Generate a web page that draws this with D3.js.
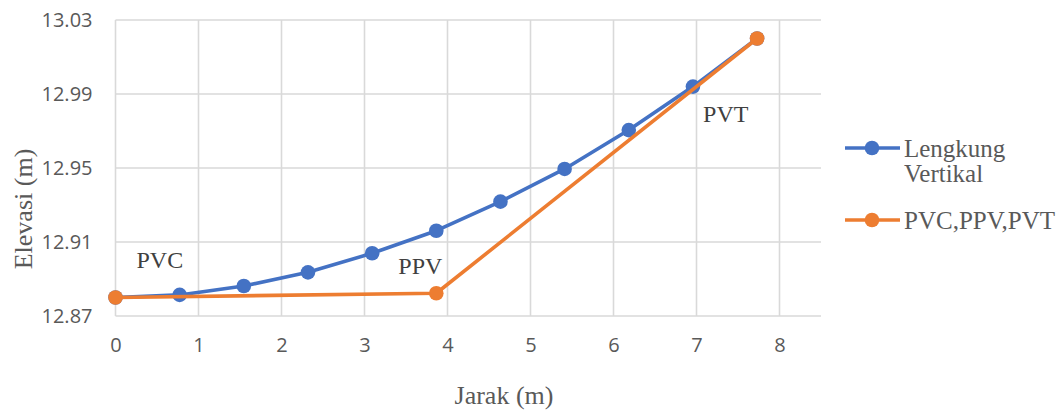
<!DOCTYPE html>
<html>
<head>
<meta charset="utf-8">
<script src="https://cdn.jsdelivr.net/npm/d3@7"></script>
<style>
  body { margin: 0; background: #fff; }
  svg { display: block; }
</style>
</head>
<body>
<div id="chart"></div>
<script>
// data
var jarak = [0, 0.773, 1.546, 2.319, 3.092, 3.865, 4.638, 5.411, 6.184, 6.957, 7.73];
var elevasiLengkung = [12.88, 12.8814, 12.8862, 12.8936, 12.9039, 12.9161, 12.9318, 12.9495, 12.9705, 12.994, 13.02];
var jarakTitik = [0, 3.865, 7.73];
var elevasiTitik = [12.88, 12.8823, 13.02];
var namaTitik = ['PVC', 'PPV', 'PVT'];
var xTicks = [0, 1, 2, 3, 4, 5, 6, 7, 8];
var yTicks = [12.87, 12.91, 12.95, 12.99, 13.03];
var seriesNames = ['Lengkung Vertikal', 'PVC,PPV,PVT'];

var width = 1061;
var height = 414;
var blue = '#4472C4';
var orange = '#ED7D31';
var gridColor = '#d9d9d9';
var serif = '"Liberation Serif", "Times New Roman", serif';
var sans = '"Open Sans", "Liberation Sans", sans-serif';

var svg = d3.select('#chart')
  .append('svg')
  .attr('width', width)
  .attr('height', height);

var x = d3.scaleLinear().domain([0, 8.5]).range([115.5, 821]);
var y = d3.scaleLinear().domain([12.87, 13.03]).range([316, 20]);

// grid
svg.append('g')
  .selectAll('line')
  .data(yTicks)
  .enter()
  .append('line')
  .attr('x1', x(0))
  .attr('x2', x(8.5))
  .attr('y1', function (d) { return y(d); })
  .attr('y2', function (d) { return y(d); })
  .attr('stroke', gridColor)
  .attr('stroke-width', 1.6);

svg.append('g')
  .selectAll('line')
  .data(xTicks)
  .enter()
  .append('line')
  .attr('x1', function (d) { return x(d); })
  .attr('x2', function (d) { return x(d); })
  .attr('y1', y(13.03))
  .attr('y2', y(12.87))
  .attr('stroke', gridColor)
  .attr('stroke-width', 1.6);

// axes (labels only, lines are the grid)
var xAxis = svg.append('g')
  .attr('transform', 'translate(0,' + y(12.87) + ')')
  .call(d3.axisBottom(x).tickValues(xTicks).tickSize(0).tickPadding(22).tickFormat(d3.format('d')));
var yAxis = svg.append('g')
  .attr('transform', 'translate(' + x(0) + ',0)')
  .call(d3.axisLeft(y).tickValues(yTicks).tickSize(0).tickPadding(23).tickFormat(d3.format('.2f')));

[xAxis, yAxis].forEach(function (g) {
  g.select('.domain').remove();
  g.selectAll('text')
    .style('font-family', sans)
    .style('font-size', '20px')
    .attr('fill', '#595959');
});

// axis titles
svg.append('text')
  .attr('x', 504)
  .attr('y', 404)
  .attr('text-anchor', 'middle')
  .style('font-family', serif)
  .style('font-size', '26px')
  .attr('fill', '#595959')
  .text('Jarak (m)');

svg.append('text')
  .attr('transform', 'translate(32,209) rotate(-90)')
  .attr('text-anchor', 'middle')
  .style('font-family', serif)
  .style('font-size', '26px')
  .attr('fill', '#595959')
  .text('Elevasi (m)');

// series
var line = d3.line()
  .x(function (d) { return x(d[0]); })
  .y(function (d) { return y(d[1]); });

function drawSeries (xs, ys, color) {
  var pts = xs.map(function (v, i) { return [v, ys[i]]; });
  var g = svg.append('g');
  g.append('path')
    .datum(pts)
    .attr('d', line)
    .attr('fill', 'none')
    .attr('stroke', color)
    .attr('stroke-width', 3.6)
    .attr('stroke-linejoin', 'round');
  g.selectAll('circle')
    .data(pts)
    .enter()
    .append('circle')
    .attr('cx', function (d) { return x(d[0]); })
    .attr('cy', function (d) { return y(d[1]); })
    .attr('r', 7.3)
    .attr('fill', color);
}

drawSeries(jarak, elevasiLengkung, blue);
drawSeries(jarakTitik, elevasiTitik, orange);

// point labels
var labelOffsets = [[21, -30], [-38, -19], [-54, 83]];
svg.append('g')
  .selectAll('text')
  .data(namaTitik)
  .enter()
  .append('text')
  .attr('x', function (d, i) { return x(jarakTitik[i]) + labelOffsets[i][0]; })
  .attr('y', function (d, i) { return y(elevasiTitik[i]) + labelOffsets[i][1]; })
  .style('font-family', serif)
  .style('font-size', '24px')
  .attr('fill', '#404040')
  .text(function (d) { return d; });

// legend
var legendColors = [blue, orange];
var legendY = [148, 220];
var legend = svg.append('g');
seriesNames.forEach(function (name, i) {
  var row = legend.append('g');
  row.append('line')
    .attr('x1', 845)
    .attr('x2', 900)
    .attr('y1', legendY[i])
    .attr('y2', legendY[i])
    .attr('stroke', legendColors[i])
    .attr('stroke-width', 3.6);
  row.append('circle')
    .attr('cx', 872)
    .attr('cy', legendY[i])
    .attr('r', 7.3)
    .attr('fill', legendColors[i]);
  var words = i === 0 ? ['Lengkung', 'Vertikal'] : [name];
  var t = row.append('text')
    .attr('x', 904)
    .attr('y', legendY[i] + 9)
    .style('font-family', serif)
    .style('font-size', '25px')
    .attr('fill', '#595959');
  words.forEach(function (w, j) {
    t.append('tspan')
      .attr('x', 904)
      .attr('dy', j === 0 ? 0 : 25)
      .text(w);
  });
});
</script>
</body>
</html>
